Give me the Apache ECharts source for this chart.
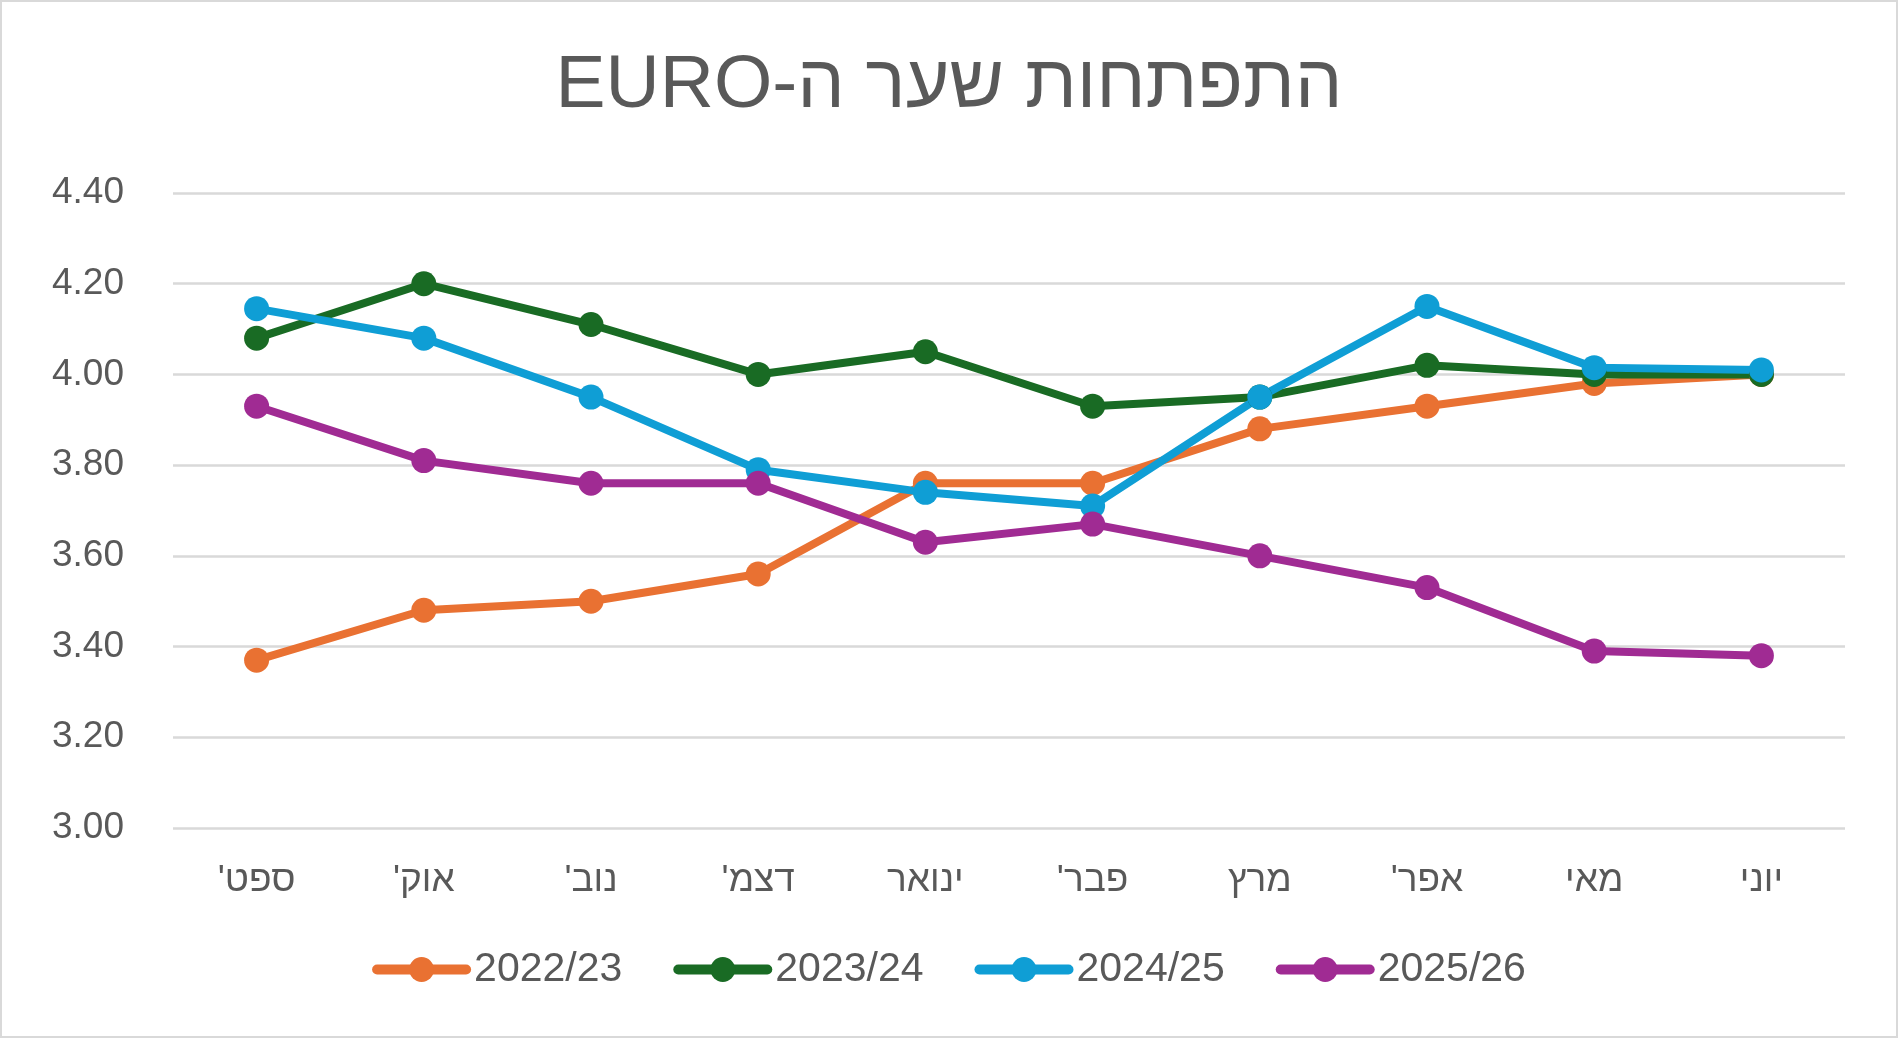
<!DOCTYPE html>
<html>
<head>
<meta charset="utf-8">
<script src="https://cdn.jsdelivr.net/npm/echarts@6/dist/echarts.min.js"></script>
<style>
  html, body { margin: 0; padding: 0; background: #fff; }
  #wrap { position: relative; width: 1898px; height: 1038px; }
  #chart { width: 1898px; height: 1038px; }
  #frame {
    position: absolute; left: 0; top: 0; right: 0; bottom: 0;
    border: 2px solid #d9d9d9; pointer-events: none;
  }
</style>
</head>
<body>
<div id="wrap">
  <div id="chart" dir="rtl"></div>
  <div id="frame"></div>
</div>
<script>
const months = ["ספט'", "אוק'", "נוב'", "דצמ'", 'ינואר', "פבר'", 'מרץ', "אפר'", 'מאי', 'יוני']

const y2022 = [3.37, 3.48, 3.50, 3.56, 3.76, 3.76, 3.88, 3.93, 3.98, 4.00]
const y2023 = [4.08, 4.20, 4.11, 4.00, 4.05, 3.93, 3.95, 4.02, 4.00, 4.00]
const y2024 = [4.145, 4.08, 3.95, 3.79, 3.74, 3.71, 3.95, 4.15, 4.015, 4.01]
const y2025 = [3.93, 3.81, 3.76, 3.76, 3.63, 3.67, 3.60, 3.53, 3.39, 3.38]

const seriesNames = ['2022/23', '2023/24', '2024/25', '2025/26']
const colors = ['#E97132', '#196B24', '#0F9ED5', '#A02B93']

const font = "'Liberation Sans', Arial, sans-serif"
const textColor = '#595959'

const chart = echarts.init(document.getElementById('chart'))

// one line series per season
const makeSeries = (name, data, color) => ({
  name,
  type: 'line',
  data,
  color,
  symbol: 'circle',
  symbolSize: 25,
  lineStyle: { width: 8, color, cap: 'round', join: 'round' },
  itemStyle: { color },
  emphasis: { disabled: true }
})

const option = {
  animation: false,
  title: {
    text: 'התפתחות שער ה-EURO',
    left: 'center',
    top: 44,
    textStyle: {
      fontFamily: font,
      fontSize: 75,
      fontWeight: 'normal',
      color: textColor
    }
  },
  legend: {
    data: seriesNames,
    left: 'center',
    top: 944,
    itemWidth: 89,
    itemHeight: 31,
    itemGap: 51,
    lineStyle: { width: 10, cap: 'round' },
    textStyle: {
      fontFamily: font,
      fontSize: 41,
      color: textColor,
      padding: [0, 0, 0, 3]
    }
  },
  grid: {
    left: 173,
    right: 53,
    top: 193,
    bottom: 210
  },
  xAxis: {
    type: 'category',
    data: months,
    boundaryGap: true,
    axisLine: { show: false },
    axisTick: { show: false },
    axisLabel: {
      margin: 34,
      fontFamily: font,
      fontSize: 37,
      color: textColor
    }
  },
  yAxis: {
    type: 'value',
    min: 3.0,
    max: 4.4,
    interval: 0.2,
    axisLine: { show: false },
    axisTick: { show: false },
    axisLabel: {
      margin: 49,
      fontFamily: font,
      fontSize: 37,
      color: textColor,
      formatter: (v) => v.toFixed(2)
    },
    splitLine: {
      lineStyle: { color: '#D9D9D9', width: 2.5 }
    }
  },
  series: [
    makeSeries(seriesNames[0], y2022, colors[0]),
    makeSeries(seriesNames[1], y2023, colors[1]),
    makeSeries(seriesNames[2], y2024, colors[2]),
    makeSeries(seriesNames[3], y2025, colors[3])
  ]
}

chart.setOption(option)
</script>
</body>
</html>
